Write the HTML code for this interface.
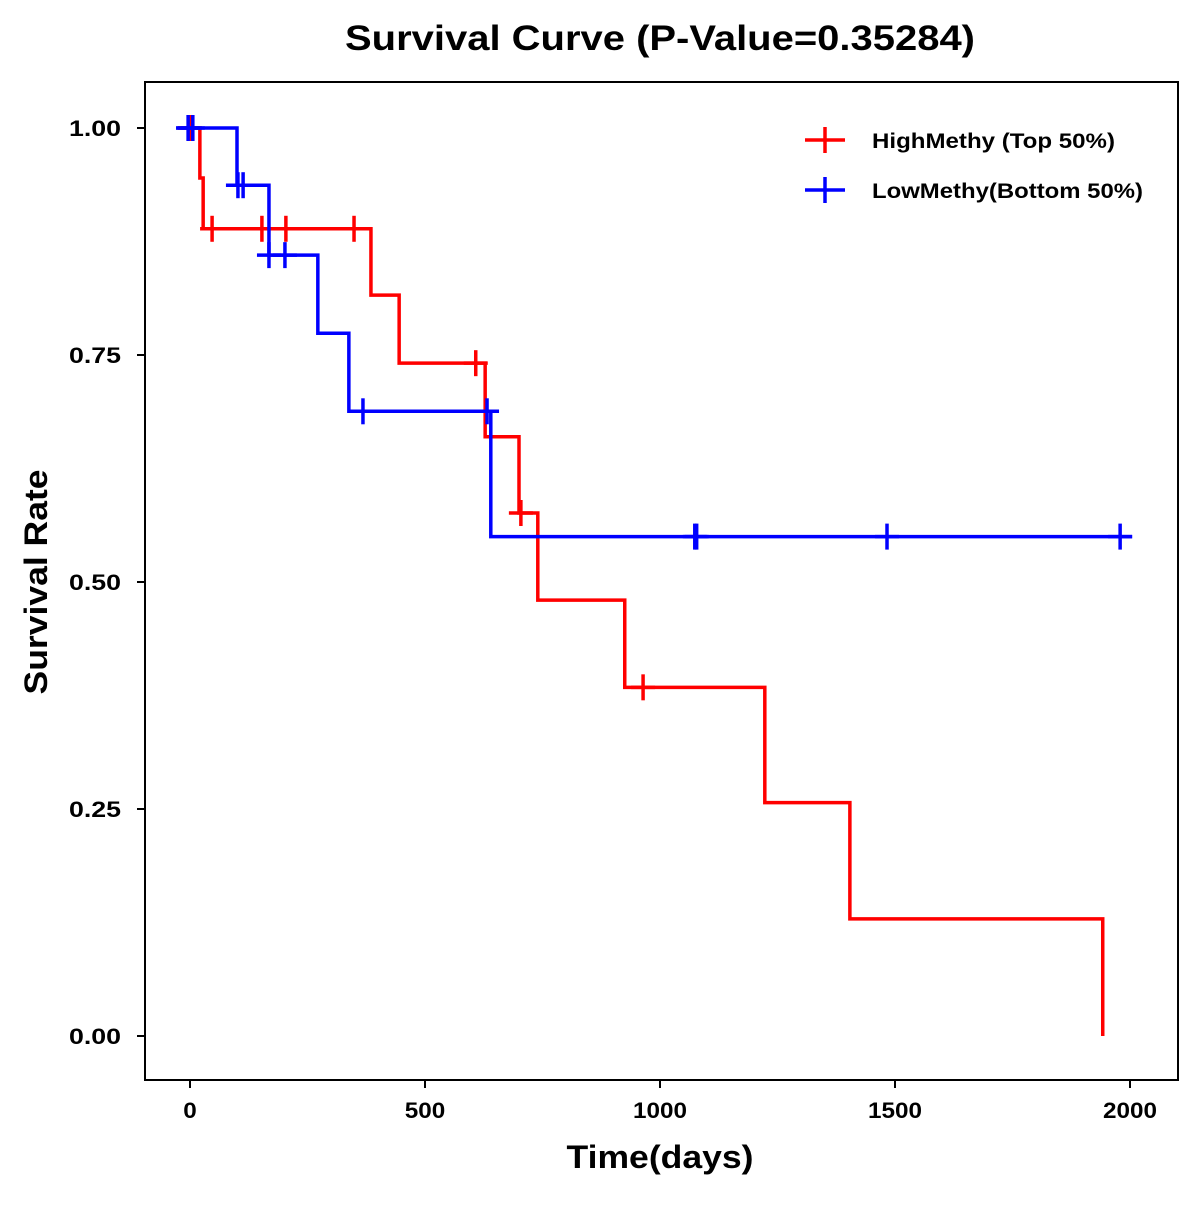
<!DOCTYPE html>
<html><head><meta charset="utf-8">
<style>
html,body{margin:0;padding:0;background:#fff;}
svg text{font-family:"Liberation Sans",Arial,sans-serif;font-weight:bold;}
</style></head>
<body>
<svg id="chart" width="1200" height="1200" viewBox="0 0 1200 1200" xmlns="http://www.w3.org/2000/svg">
<rect x="0" y="0" width="1200" height="1200" fill="#fff"/>
<text x="660" y="50" font-size="35" text-anchor="middle" textLength="630" lengthAdjust="spacingAndGlyphs">Survival Curve (P-Value=0.35284)</text>
<rect x="145" y="82" width="1033" height="998" fill="none" stroke="#000" stroke-width="2"/>
<g id="axes"></g>
<g id="series"></g>
<text x="660" y="1168" font-size="32" text-anchor="middle" textLength="187" lengthAdjust="spacingAndGlyphs">Time(days)</text>
<text transform="translate(47,582) rotate(-90)" font-size="32" text-anchor="middle" textLength="225" lengthAdjust="spacingAndGlyphs">Survival Rate</text>
<g>
<g>
<line x1="805" y1="140" x2="845" y2="140" stroke="#f00" stroke-width="3.5"/>
<line x1="825" y1="127" x2="825" y2="153" stroke="#f00" stroke-width="3.5"/>
<text x="872" y="148" font-size="21" textLength="243" lengthAdjust="spacingAndGlyphs">HighMethy (Top 50%)</text>
</g>
<g>
<line x1="805" y1="190" x2="845" y2="190" stroke="#00f" stroke-width="3.5"/>
<line x1="825" y1="177" x2="825" y2="203" stroke="#00f" stroke-width="3.5"/>
<text x="872" y="198" font-size="21" textLength="271" lengthAdjust="spacingAndGlyphs">LowMethy(Bottom 50%)</text>
</g>
</g>
</svg>
<script>
const xTicks=[0,500,1000,1500,2000];
const yTicks=[0,0.25,0.5,0.75,1.0];
const yTickLabels=["0.00","0.25","0.50","0.75","1.00"];
const highTimes=[21,28,385,445,628,700,740,925,1223,1404,1942];
const highSurv=[0.945,0.889,0.816,0.741,0.66,0.576,0.48,0.384,0.257,0.129,0];
const highCensor=[0,47,153,204,349,608,704,964];
const highEnd=1942;
const lowTimes=[100,168,272,338,640];
const lowSurv=[0.937,0.86,0.774,0.688,0.55];
const lowCensor=[-4,6,102,113,168,202,368,632,1074,1078,1483,1979];
const lowEnd=1979;

const NS="http://www.w3.org/2000/svg";
function xs(d){return 190+d*0.47;}
function ys(v){return 1036-v*908;}
const axes=document.getElementById('axes');
function mk(tag,attrs,parent){const e=document.createElementNS(NS,tag);for(const k in attrs)e.setAttribute(k,attrs[k]);parent.appendChild(e);return e;}
xTicks.forEach(t=>{
  const l=mk('line',{x1:xs(t),x2:xs(t),y1:1080,y2:1088,stroke:'#000','stroke-width':2},axes);
  
  
  const tx=mk('text',{x:xs(t),y:1118,'font-size':22,'text-anchor':'middle'},axes);
  tx.textContent=t;
  tx.setAttribute('textLength',String(t).length*13.5);
  tx.setAttribute('lengthAdjust','spacingAndGlyphs');
  
  
});
yTicks.forEach((t,i)=>{
  const l=mk('line',{x1:137,x2:145,y1:ys(t),y2:ys(t),stroke:'#000','stroke-width':2},axes);
  
  
  const tx=mk('text',{x:121,y:ys(t)+8,'font-size':22,'text-anchor':'end','textLength':52,'lengthAdjust':'spacingAndGlyphs'},axes);
  tx.textContent=yTickLabels[i];
  
  
});
const series=document.getElementById('series');
function survAt(times,surv,t){let s=1;for(let i=0;i<times.length;i++){if(times[i]<=t)s=surv[i];}return s;}
function draw(times,surv,censor,end,color,name){
  const g=mk('g',{},series);
  
  
  let d='M'+(xs(Math.min(0,censor[0]))-12)+' '+ys(1);
  let s=1;
  times.forEach((t,i)=>{d+=' H'+xs(t)+' V'+ys(surv[i]);s=surv[i];});
  if(s>0)d+=' H'+(xs(end)+12);
  const p=mk('path',{d:d,fill:'none',stroke:color,'stroke-width':3.5},g);
  
  
  censor.forEach(c=>{
    const sv=survAt(times,surv,c);
    const m=mk('line',{x1:xs(c),x2:xs(c),y1:ys(sv)-13,y2:ys(sv)+13,stroke:color,'stroke-width':3.5},g);
    
    
    const h=mk('line',{x1:xs(c)-12,x2:xs(c)+12,y1:ys(sv),y2:ys(sv),stroke:color,'stroke-width':3.5},g);
    
    
  });
}
draw(highTimes,highSurv,highCensor,highEnd,'#f00','high-methy-curve');
draw(lowTimes,lowSurv,lowCensor,lowEnd,'#00f','low-methy-curve');
</script>
</body></html>
